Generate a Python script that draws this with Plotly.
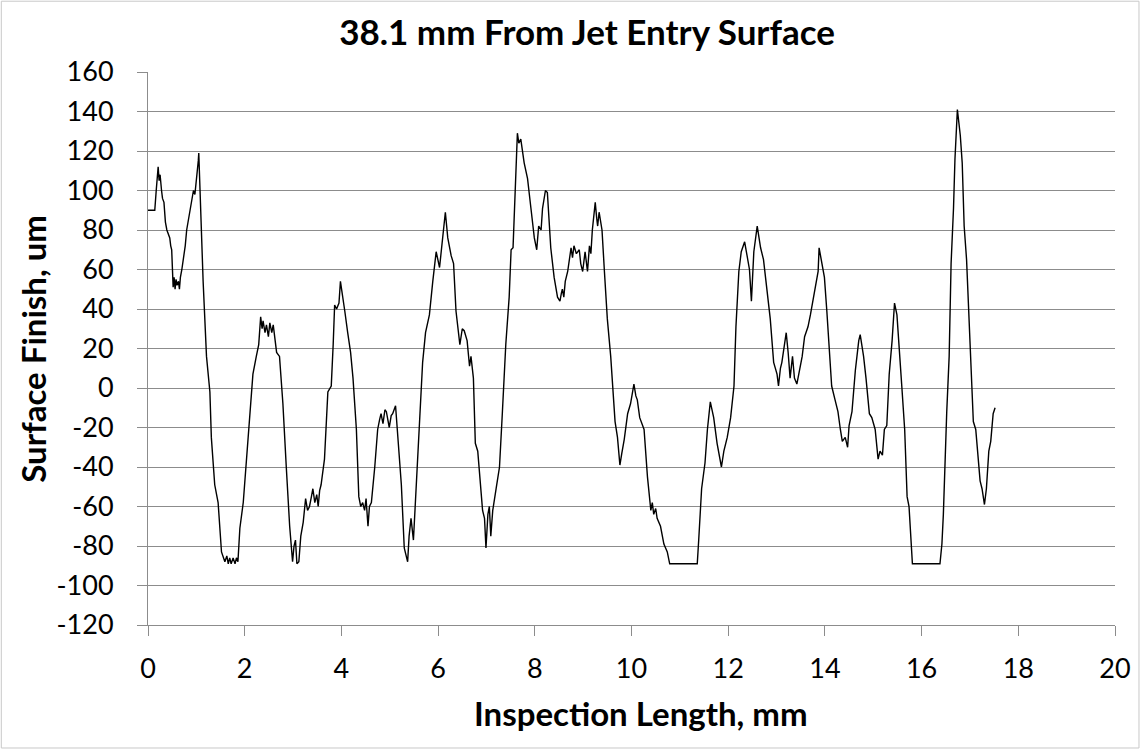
import plotly.graph_objects as go

# Surface profile along the inspection length (mm) and measured height (um)
length_mm = [
    0.00, 0.14, 0.17, 0.21, 0.23, 0.25, 0.28, 0.30, 0.33, 0.36, 0.39, 0.42, 0.45, 0.47, 0.49,
    0.52, 0.54, 0.56, 0.58, 0.60, 0.63, 0.65, 0.67, 0.70, 0.73, 0.77, 0.80, 0.84, 0.87, 0.90,
    0.94, 0.97, 1.00, 1.02, 1.04, 1.05, 1.07, 1.09, 1.14, 1.21, 1.28, 1.31, 1.38, 1.45, 1.52,
    1.59, 1.63, 1.66, 1.69, 1.72, 1.76, 1.80, 1.83, 1.86, 1.90, 1.97, 2.04, 2.11, 2.14, 2.17,
    2.24, 2.29, 2.33, 2.36, 2.38, 2.42, 2.45, 2.49, 2.52, 2.56, 2.59, 2.63, 2.66, 2.72, 2.79,
    2.86, 2.93, 2.99, 3.02, 3.05, 3.08, 3.12, 3.16, 3.21, 3.26, 3.30, 3.34, 3.38, 3.41, 3.45,
    3.49, 3.52, 3.55, 3.58, 3.65, 3.72, 3.79, 3.83, 3.86, 3.90, 3.95, 3.98, 4.02, 4.07, 4.13,
    4.19, 4.24, 4.31, 4.36, 4.40, 4.44, 4.48, 4.51, 4.55, 4.58, 4.62, 4.69, 4.75, 4.79, 4.82,
    4.86, 4.90, 4.93, 4.99, 5.03, 5.06, 5.12, 5.17, 5.24, 5.30, 5.37, 5.40, 5.44, 5.49, 5.55,
    5.61, 5.68, 5.74, 5.82, 5.89, 5.96, 6.03, 6.10, 6.15, 6.20, 6.27, 6.32, 6.37, 6.45, 6.50,
    6.54, 6.60, 6.65, 6.68, 6.73, 6.77, 6.82, 6.87, 6.92, 6.96, 6.99, 7.03, 7.06, 7.09, 7.13,
    7.20, 7.27, 7.33, 7.40, 7.47, 7.51, 7.55, 7.60, 7.64, 7.67, 7.71, 7.78, 7.85, 7.92, 7.99,
    8.04, 8.08, 8.13, 8.16, 8.22, 8.26, 8.33, 8.40, 8.47, 8.52, 8.55, 8.57, 8.60, 8.63, 8.68,
    8.75, 8.78, 8.81, 8.86, 8.92, 8.95, 8.99, 9.04, 9.09, 9.13, 9.16, 9.19, 9.25, 9.28, 9.30,
    9.33, 9.39, 9.44, 9.50, 9.57, 9.62, 9.66, 9.71, 9.76, 9.80, 9.85, 9.92, 9.98, 10.05, 10.09,
    10.12, 10.17, 10.26, 10.33, 10.40, 10.43, 10.46, 10.50, 10.53, 10.60, 10.67, 10.74, 10.79, 11.36, 11.39,
    11.45, 11.52, 11.57, 11.63, 11.70, 11.77, 11.86, 11.91, 11.98, 12.05, 12.12, 12.16, 12.22, 12.27, 12.34,
    12.39, 12.44, 12.48, 12.53, 12.60, 12.64, 12.67, 12.73, 12.80, 12.87, 12.94, 13.01, 13.04, 13.08, 13.11,
    13.15, 13.20, 13.24, 13.28, 13.33, 13.37, 13.42, 13.47, 13.53, 13.58, 13.65, 13.70, 13.77, 13.82, 13.86,
    13.88, 13.94, 13.99, 14.04, 14.09, 14.14, 14.21, 14.27, 14.32, 14.36, 14.42, 14.47, 14.50, 14.56, 14.63,
    14.70, 14.73, 14.80, 14.85, 14.92, 14.97, 15.04, 15.10, 15.14, 15.19, 15.23, 15.28, 15.33, 15.39, 15.44,
    15.49, 15.54, 15.59, 15.65, 15.70, 15.74, 15.80, 15.81, 16.38, 16.42, 16.45, 16.48, 16.52, 16.57, 16.61,
    16.66, 16.69, 16.74, 16.76, 16.80, 16.84, 16.88, 16.93, 16.98, 17.02, 17.07, 17.12, 17.17, 17.21, 17.25,
    17.30, 17.34, 17.39, 17.43, 17.48, 17.52,
]

surface_um = [
    90, 90, 100, 112, 105, 108, 100, 96, 94, 84, 80, 78, 76, 72, 70,
    51, 56, 50, 55, 52, 54, 50, 56, 60, 65, 72, 80, 86, 91, 95,
    100, 98, 104, 108, 115, 119, 106, 84, 54, 16, -2, -25, -49, -58, -83,
    -88, -85, -89, -86, -89, -86, -89, -86, -88, -71, -58, -36, -12, 0, 7,
    16, 22, 36, 30, 34, 28, 32, 26, 33, 28, 32, 25, 18, 16, -8,
    -40, -70, -88, -80, -77, -89, -88, -75, -68, -56, -62, -60, -55, -51, -58,
    -54, -60, -52, -49, -36, -2, 1, 22, 42, 40, 43, 54, 46, 39, 28,
    18, 5, -21, -55, -60, -58, -62, -56, -70, -60, -58, -40, -21, -16, -13,
    -18, -11, -12, -20, -14, -13, -9, -27, -49, -81, -88, -75, -66, -77, -49,
    -17, 13, 28, 37, 54, 69, 61, 76, 89, 76, 67, 63, 39, 22, 30,
    29, 24, 11, 16, 5, -28, -32, -49, -62, -66, -81, -64, -60, -75, -62,
    -51, -40, -12, 22, 46, 70, 71, 102, 129, 124, 126, 114, 106, 91, 76,
    70, 82, 80, 91, 100, 99, 71, 56, 46, 44, 48, 50, 46, 54, 59,
    71, 66, 72, 68, 70, 63, 59, 69, 59, 72, 68, 80, 94, 86, 82,
    89, 80, 59, 35, 16, -2, -17, -25, -39, -33, -26, -13, -8, 2, -4,
    -6, -15, -21, -45, -62, -58, -64, -61, -66, -70, -79, -83, -89, -89, -77,
    -51, -38, -21, -7, -15, -28, -40, -32, -25, -15, 1, 31, 59, 69, 74,
    67, 60, 44, 69, 82, 76, 71, 65, 50, 35, 13, 7, 1, 10, 13,
    20, 28, 18, 5, 16, 5, 2, 8, 16, 26, 31, 37, 46, 54, 59,
    71, 62, 56, 39, 20, 1, -6, -12, -21, -27, -25, -30, -19, -12, 9,
    24, 27, 16, 5, -13, -15, -21, -36, -32, -34, -21, -19, 7, 24, 43,
    37, 16, 1, -21, -55, -60, -83, -89, -89, -79, -64, -40, -12, 16, 63,
    91, 116, 141, 136, 128, 114, 82, 65, 35, 13, -17, -21, -36, -47, -51,
    -59, -51, -32, -27, -13, -10,
]

x_ticks = [0, 2, 4, 6, 8, 10, 12, 14, 16, 18, 20]
y_ticks = [160, 140, 120, 100, 80, 60, 40, 20, 0, -20, -40, -60, -80, -100, -120]

chart_title = "38.1 mm From Jet Entry Surface"
x_title = "Inspection Length, mm"
y_title = "Surface Finish, um"

FONT = "Lato, 'Open Sans', sans-serif"
GRID = "#8c8c8c"
TICK_SIZE = 27
AXIS_TITLE_SIZE = 33

fig = go.Figure()
fig.add_trace(go.Scatter(
    x=length_mm,
    y=surface_um,
    mode="lines",
    line=dict(color="black", width=1.4),
    showlegend=False,
    hoverinfo="x+y",
))

# Chart-area border in the spreadsheet style
fig.add_shape(
    type="rect", xref="paper", yref="paper",
    x0=-0.1517, x1=1.0248, y0=-0.2224, y1=1.128,
    line=dict(color="#c8c8c8", width=1), fillcolor="rgba(0,0,0,0)",
    layer="below",
)

# Axis titles
fig.add_annotation(
    text=f"<b>{x_title}</b>", xref="paper", yref="paper",
    x=0.5098, y=-0.159, xanchor="center", yanchor="middle",
    showarrow=False, font=dict(size=AXIS_TITLE_SIZE, family=FONT, color="black"),
)
fig.add_annotation(
    text=f"<b>{y_title}</b>", xref="paper", yref="paper",
    x=-0.1197, y=0.5, xanchor="center", yanchor="middle", textangle=-90,
    showarrow=False, font=dict(size=AXIS_TITLE_SIZE, family=FONT, color="black"),
)

fig.update_layout(
    width=1143,
    height=750,
    margin=dict(l=148, r=26, t=72, b=125, pad=0),
    paper_bgcolor="white",
    plot_bgcolor="white",
    font=dict(family=FONT, color="black"),
    title=dict(
        text=f"<b>{chart_title}</b>",
        x=0.5136, xref="container", xanchor="center",
        y=0.956, yref="container", yanchor="middle",
        font=dict(size=35, family=FONT, color="black"),
    ),
    xaxis=dict(
        range=[0, 20],
        tickvals=x_ticks,
        ticktext=[str(v) for v in x_ticks],
        showgrid=False,
        zeroline=False,
        showline=True,
        linecolor=GRID,
        linewidth=1,
        ticks="outside",
        ticklen=10,
        tickcolor=GRID,
        ticklabelstandoff=10,
        tickfont=dict(size=TICK_SIZE, family=FONT, color="black"),
    ),
    yaxis=dict(
        range=[-120, 160],
        tickvals=y_ticks,
        ticktext=[str(v) for v in y_ticks],
        showgrid=True,
        gridcolor=GRID,
        gridwidth=1,
        zeroline=False,
        showline=True,
        linecolor=GRID,
        linewidth=1,
        ticks="outside",
        ticklen=10,
        tickcolor=GRID,
        ticklabelstandoff=18,
        tickfont=dict(size=TICK_SIZE, family=FONT, color="black"),
    ),
)

fig.write_html("out.html")
